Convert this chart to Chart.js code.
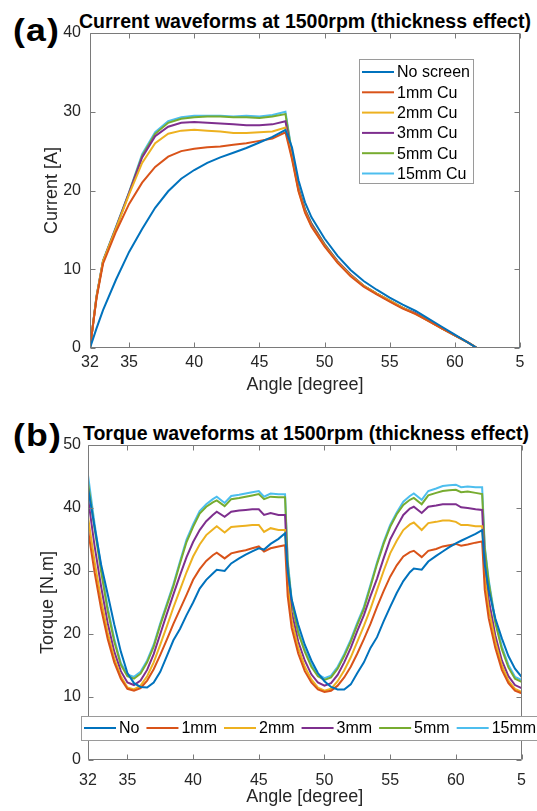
<!DOCTYPE html>
<html>
<head>
<meta charset="utf-8">
<script src="https://cdn.jsdelivr.net/npm/chart.js@4.4.0/dist/chart.umd.min.js"></script>
<style>
  body { margin: 0; background: #fff; width: 537px; height: 811px; overflow: hidden; position: relative;
         font-family: "Liberation Sans", Arial, sans-serif; }
  canvas { position: absolute; left: 0; }
  #currentChart { top: 0; }
  #torqueChart { top: 405px; }
  .ttl { position: absolute; transform: translateX(-50%); font-weight: bold; font-size: 19.5px;
         line-height: 1; white-space: nowrap; color: #000; }
  .tag { position: absolute; left: 13px; font-weight: bold; font-size: 31px; line-height: 1;
         letter-spacing: 1px; color: #000; transform: scaleX(1.15); transform-origin: left top; }
</style>
</head>
<body>
<div class="tag" style="top:15px">(a)</div>
<div class="ttl" style="top:12px;left:305px">Current waveforms at 1500rpm (thickness effect)</div>
<canvas id="currentChart" width="537" height="400"></canvas>
<div class="tag" style="top:420px">(b)</div>
<div class="ttl" style="top:424px;left:306px">Torque waveforms at 1500rpm (thickness effect)</div>
<canvas id="torqueChart" width="537" height="406"></canvas>

<script>
// ---------------- data ----------------
const xTickValues = [32, 35, 40, 45, 50, 55, 60, 65];
const xTickLabels = ["32", "35", "40", "45", "50", "55", "60", "5"];
const currentYTicks = [0, 10, 20, 30, 40];
const torqueYTicks = [0, 10, 20, 30, 40, 50];

const currentLabels = ["No screen", "1mm Cu", "2mm Cu", "3mm Cu", "5mm Cu", "15mm Cu"];
const torqueLabels = ["No", "1mm", "2mm", "3mm", "5mm", "15mm"];

// current [A] vs angle [degree]
const currentAngles = [32, 32.5, 33, 34, 35, 36, 37, 38, 39, 40, 41, 42, 43, 44, 45, 46, 47, 47.5, 48, 48.5,
  49, 50, 51, 52, 53, 54, 55, 56, 57, 58, 59, 60, 61, 61.7, 65];
const currentNo = [0, 2.5, 4.8, 8.7, 12.2, 15.1, 17.8, 19.9, 21.5, 22.6, 23.5, 24.2, 24.8, 25.4, 26.1, 26.8, 27.7, 25.5, 21.3, 18.5,
  16.6, 13.9, 11.7, 9.9, 8.5, 7.4, 6.4, 5.5, 4.7, 3.7, 2.7, 1.7, 0.7, 0, 0];
const current1mm = [0, 6.3, 10.7, 14.8, 18.3, 21.0, 23.0, 24.3, 25.0, 25.3, 25.5, 25.6, 25.8, 26.0, 26.3, 26.6, 27.4, 24.0, 19.9, 17.2,
  15.4, 12.9, 10.8, 9.1, 7.8, 6.8, 5.9, 5.0, 4.3, 3.4, 2.5, 1.6, 0.7, 0, 0];
const current2mm = [0, 6.5, 11.0, 15.2, 19.5, 23.5, 26.0, 27.2, 27.6, 27.7, 27.6, 27.5, 27.3, 27.3, 27.4, 27.5, 28.0, 24.2, 20.0, 17.3,
  15.5, 13.0, 10.9, 9.2, 7.9, 6.9, 6.0, 5.1, 4.3, 3.4, 2.5, 1.6, 0.7, 0, 0];
const current3mm = [0, 6.5, 11.0, 15.3, 19.7, 24.2, 26.9, 28.1, 28.6, 28.7, 28.6, 28.5, 28.4, 28.3, 28.3, 28.4, 28.8, 24.5, 20.2, 17.5,
  15.7, 13.1, 11.0, 9.3, 7.9, 6.9, 6.0, 5.1, 4.4, 3.4, 2.5, 1.6, 0.7, 0, 0];
const current5mm = [0, 6.5, 11.0, 15.3, 19.7, 24.4, 27.2, 28.6, 29.1, 29.3, 29.4, 29.4, 29.3, 29.3, 29.2, 29.4, 29.7, 24.7, 20.3, 17.6,
  15.8, 13.2, 11.0, 9.3, 7.9, 6.9, 6.0, 5.1, 4.4, 3.5, 2.5, 1.6, 0.7, 0, 0];
const current15mm = [0, 6.6, 11.1, 15.4, 19.8, 24.6, 27.4, 28.8, 29.3, 29.5, 29.5, 29.5, 29.4, 29.5, 29.4, 29.6, 30.0, 24.8, 20.4, 17.6,
  15.8, 13.2, 11.0, 9.3, 7.9, 6.9, 6.0, 5.1, 4.4, 3.5, 2.6, 1.6, 0.7, 0, 0];

// torque [N.m] vs angle [degree]
const torqueAngles = [32, 32.5, 33, 33.5, 34, 34.5, 35, 35.5, 36, 36.5,
  37, 37.5, 38, 38.5, 39, 39.5, 40, 40.5, 41, 41.5,
  41.8, 42.4, 42.9, 43.5, 44, 44.5, 45, 45.4, 45.9, 46.5,
  47, 47.2, 47.5, 48, 48.5, 49, 49.5, 50, 50.5, 51,
  51.5, 52, 52.5, 53, 53.5, 54, 54.5, 55, 55.5, 56,
  56.5, 56.8, 57.4, 57.9, 58.5, 59, 59.5, 60, 60.4, 60.9,
  61.5, 62, 62.2, 62.5, 63, 63.5, 64, 64.5, 65];
const torqueNo = [43.2, 37.0, 31.0, 26.3, 21.5, 17.2, 13.8, 12.2, 11.6, 11.5,
  12.3, 14.0, 16.5, 19.0, 20.8, 23.0, 25.0, 27.2, 28.6, 29.6,
  30.2, 30.0, 31.2, 32.0, 32.6, 33.1, 33.6, 33.4, 34.3, 35.1,
  36.0, 30.0, 25.5, 21.5, 18.3, 15.8, 13.8, 12.5, 11.6, 11.2,
  11.2, 12.0, 13.8, 15.5, 17.8, 19.5, 22.0, 24.3, 26.5, 28.4,
  29.8, 30.4, 30.2, 31.5, 32.4, 33.1, 33.8, 34.4, 34.8, 35.3,
  35.9, 36.5, 31.0, 27.0, 22.5, 19.3, 16.5, 14.5, 13.2];
const torque1mm = [36.5, 29.8, 24.0, 19.2, 15.5, 12.9, 11.3, 11.0, 11.4, 12.6,
  14.4, 16.7, 19.1, 21.6, 23.9, 26.2, 28.6, 30.3, 31.6, 32.5,
  32.9, 32.0, 32.8, 33.1, 33.3, 33.6, 33.9, 33.1, 33.6, 33.9,
  34.1, 26.0, 21.0, 16.9, 14.1, 12.3, 11.2, 10.8, 11.0, 11.8,
  13.1, 14.8, 16.9, 19.2, 21.6, 24.3, 26.8, 29.1, 30.9, 32.3,
  33.0, 33.2, 32.2, 33.2, 33.5, 33.9, 34.1, 34.3, 34.0, 34.2,
  34.5, 34.7, 27.0, 22.5, 17.8, 14.3, 12.2, 11.0, 10.6];
const torque2mm = [38.6, 31.5, 25.4, 20.2, 16.1, 13.3, 11.5, 11.2, 11.8, 13.3,
  15.5, 18.3, 21.2, 24.2, 27.0, 29.8, 32.3, 34.2, 35.7, 36.6,
  37.1, 36.1, 37.0, 37.1, 37.2, 37.3, 37.3, 36.2, 36.8, 36.5,
  36.5, 27.8, 22.2, 17.8, 14.8, 12.8, 11.5, 11.0, 11.3, 12.5,
  14.2, 16.3, 18.8, 21.3, 24.0, 27.0, 30.0, 32.8, 34.8, 36.5,
  37.4, 37.7, 36.5, 37.6, 37.8, 38.0, 38.0, 37.8, 37.3, 37.3,
  37.1, 37.1, 29.0, 24.0, 18.8, 15.0, 12.6, 11.3, 10.8];
const torque3mm = [41.6, 34.0, 27.5, 21.7, 17.2, 14.1, 12.3, 11.9, 12.6, 14.3,
  16.8, 20.0, 23.2, 26.3, 29.3, 32.2, 34.6, 36.5, 37.9, 38.9,
  39.4, 38.6, 39.4, 39.6, 39.7, 39.8, 39.8, 38.9, 39.2, 38.9,
  38.9, 29.5, 23.5, 18.8, 15.8, 13.6, 12.3, 11.8, 12.2, 13.5,
  15.5, 17.8, 20.5, 23.0, 26.0, 28.8, 32.0, 35.0, 37.0, 38.9,
  39.9, 40.2, 39.2, 40.2, 40.4, 40.6, 40.6, 40.6, 40.1, 40.0,
  39.8, 39.7, 31.0, 25.5, 19.8, 15.8, 13.3, 11.9, 11.4];
const torque5mm = [44.0, 36.8, 29.9, 23.7, 18.8, 15.1, 13.3, 12.9, 13.7, 15.5,
  18.0, 21.4, 24.5, 27.6, 31.2, 34.6, 37.0, 39.1, 40.2, 40.9,
  41.2, 40.3, 41.4, 41.6, 41.8, 42.0, 42.2, 41.4, 41.8, 41.7,
  41.7, 31.2, 25.0, 20.2, 17.2, 14.8, 13.3, 12.7, 13.1, 14.5,
  16.5, 18.8, 21.5, 24.0, 27.5, 31.1, 34.3, 37.0, 39.0, 40.5,
  41.3, 41.6, 40.6, 42.0, 42.4, 42.7, 42.8, 42.9, 42.5, 42.6,
  42.4, 42.2, 33.5, 28.2, 21.8, 17.6, 14.7, 12.9, 12.4];
const torque15mm = [45.2, 37.5, 30.5, 24.2, 19.2, 15.4, 13.6, 13.2, 14.0, 15.8,
  18.3, 21.7, 24.8, 27.9, 31.5, 35.0, 37.4, 39.5, 40.6, 41.4,
  41.8, 40.8, 41.9, 42.1, 42.3, 42.5, 42.7, 41.8, 42.3, 42.2,
  42.2, 31.7, 25.5, 20.5, 17.5, 15.1, 13.6, 13.0, 13.4, 14.8,
  16.8, 19.1, 21.8, 24.3, 27.8, 31.4, 34.6, 37.3, 39.3, 41.0,
  41.9, 42.3, 41.3, 42.7, 43.1, 43.5, 43.6, 43.7, 43.3, 43.4,
  43.3, 43.3, 33.9, 28.6, 22.2, 18.0, 15.1, 13.2, 12.7];

// ---------------- styling ----------------
const COLORS = ["#0072BD", "#D95319", "#EDB120", "#7E2F8E", "#77AC30", "#4DBEEE"];
const AXIS_COLOR = "#7a7a7a";
const TEXT_COLOR = "#262626";
const FONT = "'Liberation Sans', Arial, sans-serif";

function pairs(xs, ys) {
  return xs.map((x, i) => ({ x: x, y: ys[i] }));
}

function makeDatasets(labels, angles, seriesList) {
  return seriesList.map((vals, i) => ({
    label: labels[i],
    data: pairs(angles, vals),
    borderColor: COLORS[i],
    borderWidth: 2,
    pointRadius: 0,
    fill: false,
    tension: 0
  }));
}

// box round the plot with inward ticks on all four sides
const matlabFrame = {
  id: "matlabFrame",
  afterDraw(chart) {
    const { ctx, chartArea: a, scales: { x, y } } = chart;
    const L = Math.round(a.left) + 0.5, R = Math.round(a.right) - 0.5;
    const T = Math.round(a.top) + 0.5, B = Math.round(a.bottom) - 0.5;
    ctx.save();
    ctx.strokeStyle = AXIS_COLOR;
    ctx.lineWidth = 1;
    ctx.beginPath();
    ctx.rect(L, T, R - L, B - T);
    x.ticks.forEach(t => {
      const px = Math.round(x.getPixelForValue(t.value)) + 0.5;
      ctx.moveTo(px, B); ctx.lineTo(px, B - 5);
      ctx.moveTo(px, T); ctx.lineTo(px, T + 5);
    });
    y.ticks.forEach(t => {
      const py = Math.round(y.getPixelForValue(t.value)) + 0.5;
      ctx.moveTo(L, py); ctx.lineTo(L + 5, py);
      ctx.moveTo(R, py); ctx.lineTo(R - 5, py);
    });
    ctx.stroke();
    ctx.restore();
  }
};

// legend box drawn over the plot
const boxLegend = {
  id: "boxLegend",
  afterDraw(chart, args, o) {
    const ctx = chart.ctx;
    ctx.save();
    ctx.fillStyle = "#fff";
    ctx.fillRect(o.x, o.y, o.w, o.h);
    ctx.strokeStyle = "#9a9a9a";
    ctx.lineWidth = 1;
    ctx.strokeRect(o.x + 0.5, o.y + 0.5, o.w, o.h);
    ctx.font = "16px " + FONT;
    ctx.textBaseline = "middle";
    let cx = o.x + 3;
    chart.data.datasets.forEach((ds, i) => {
      let lx, ly;
      if (o.horizontal) {
        lx = cx; ly = o.y + o.h / 2;
      } else {
        lx = o.x + 3; ly = o.y + 13 + i * o.row;
      }
      ctx.strokeStyle = ds.borderColor;
      ctx.lineWidth = 2;
      ctx.beginPath();
      ctx.moveTo(lx, ly); ctx.lineTo(lx + 32, ly);
      ctx.stroke();
      ctx.fillStyle = "#000";
      ctx.fillText(ds.label, lx + 35, ly + 1);
      cx = lx + 35 + ctx.measureText(ds.label).width + 7;
    });
    ctx.restore();
  }
};

function axisOptions(yTicks, yTitle, cfg) {
  return {
    x: {
      type: "linear", min: 32, max: 65,
      afterBuildTicks: s => { s.ticks = xTickValues.map(v => ({ value: v })); },
      afterFit: s => { s.height = cfg.xHeight; },
      grid: { display: false, drawTicks: false },
      border: { display: false },
      ticks: {
        autoSkip: false, maxRotation: 0, padding: cfg.xPad, color: TEXT_COLOR,
        font: { family: FONT, size: 16 },
        callback: v => xTickLabels[xTickValues.indexOf(v)]
      },
      title: {
        display: true, text: "Angle [degree]", color: TEXT_COLOR,
        font: { family: FONT, size: 18 }, padding: { top: 0, bottom: cfg.xTitlePad }
      }
    },
    y: {
      min: yTicks[0], max: yTicks[yTicks.length - 1],
      afterBuildTicks: s => { s.ticks = yTicks.map(v => ({ value: v })); },
      afterFit: s => { s.width = cfg.yWidth; },
      grid: { display: false, drawTicks: false },
      border: { display: false },
      ticks: { padding: cfg.yPad, color: TEXT_COLOR, font: { family: FONT, size: 16 } },
      title: {
        display: true, text: yTitle, color: TEXT_COLOR,
        font: { family: FONT, size: 18 }, padding: { top: cfg.yTitlePad, bottom: 0 }
      }
    }
  };
}

new Chart(document.getElementById("currentChart"), {
  type: "line",
  data: {
    datasets: makeDatasets(currentLabels, currentAngles,
      [currentNo, current1mm, current2mm, current3mm, current5mm, current15mm])
  },
  options: {
    responsive: false,
    animation: false,
    layout: { padding: { left: 0, right: 17, top: 33, bottom: 0 } },
    scales: axisOptions(currentYTicks, "Current [A]",
      { xHeight: 52, xPad: 5, xTitlePad: 4, yWidth: 90, yPad: 9, yTitlePad: 41 }),
    plugins: {
      legend: { display: false },
      tooltip: { enabled: false },
      boxLegend: { x: 359, y: 59, w: 114, h: 124, row: 20.3, horizontal: false }
    }
  },
  plugins: [matlabFrame, boxLegend]
});

new Chart(document.getElementById("torqueChart"), {
  type: "line",
  data: {
    datasets: makeDatasets(torqueLabels, torqueAngles,
      [torqueNo, torque1mm, torque2mm, torque3mm, torque5mm, torque15mm])
  },
  options: {
    responsive: false,
    animation: false,
    layout: { padding: { left: 0, right: 10, top: 40, bottom: 0 } },
    scales: axisOptions(torqueYTicks, "Torque [N.m]",
      { xHeight: 51, xPad: 11, xTitlePad: 3, yWidth: 88, yPad: 7, yTitlePad: 37 }),
    plugins: {
      legend: { display: false },
      tooltip: { enabled: false },
      boxLegend: { x: 81, y: 311, w: 470, h: 24, horizontal: true }
    }
  },
  plugins: [matlabFrame, boxLegend]
});
</script>
</body>
</html>
